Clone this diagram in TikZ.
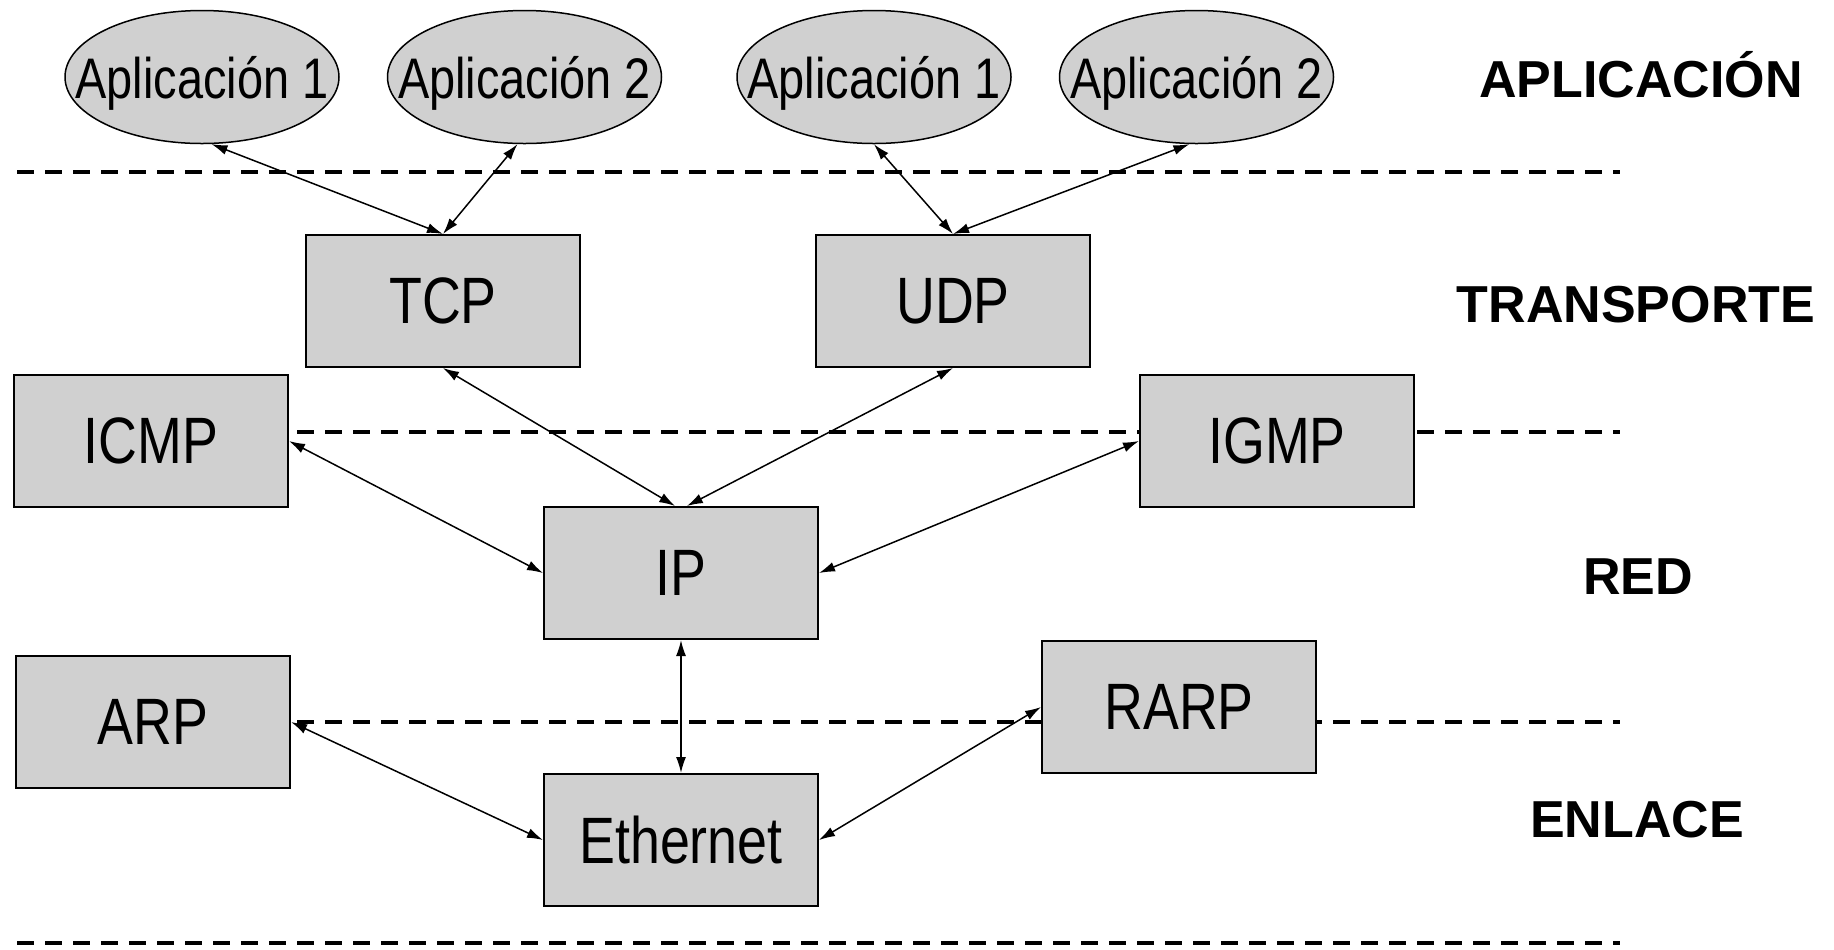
\documentclass[tikz,border=0pt]{standalone}
\usepackage{fontspec}
\setmainfont{Liberation Sans}
\newfontfamily\narrowfont[FakeStretch=0.82]{Liberation Sans}
\usetikzlibrary{positioning,shapes.geometric,arrows.meta}
\definecolor{gris}{RGB}{208,208,208}

\begin{document}
\begin{tikzpicture}[x=0.5pt, y=-0.5pt,
box/.style={rectangle, draw=black, fill=gris, line width=1pt, minimum width=137pt, minimum height=66pt, inner sep=0pt, font=\narrowfont\fontsize{32.8}{36}\selectfont},
app/.style={ellipse, draw=black, fill=gris, line width=0.75pt, minimum width=137pt, minimum height=66.5pt, inner xsep=-16pt, inner ysep=0pt, text depth=0pt, font=\narrowfont\fontsize{28.6}{32}\selectfont},
layer/.style={anchor=base, font=\bfseries\fontsize{26}{30}\selectfont},
divider/.style={line width=2pt, dash pattern=on 8.25pt off 5.75pt},
link/.style={{Latex[length=8pt,width=5pt]}-{Latex[length=8pt,width=5pt]}, line width=0.75pt},
]
\useasboundingbox (0,0) rectangle (1834,949);

% dashed lines between the layers (behind the boxes)
\foreach \y in {172,432,722,943}
  \draw[divider] (17,\y) -- (1620,\y);

% \node[type](name)[right/below=... of name]{text}
\node[app](app1) at (202,77) {Aplicación 1};
\node[app](app2)[right=23.5pt of app1] {Aplicación 2};
\node[app](app3) at (874,77) {Aplicación 1};
\node[app](app4)[right=23.5pt of app3] {Aplicación 2};

\node[box](tcp) at (443,301) {TCP};
\node[box](udp) at (953,301) {UDP};
\node[box](icmp) at (151,441) {ICMP};
\node[box](igmp) at (1277,441) {IGMP};
\node[box](ip) at (681,573) {IP};
\node[box](arp) at (153,722) {ARP};
\node[box](rarp) at (1179,707) {RARP};
\node[box](eth)[below=66.5pt of ip] {Ethernet};

% layer names
\node[layer](aplic) at (1641,97) {APLICACIÓN};
\node[layer](transp) at (1636,322) {TRANSPORTE};
\node[layer](red) at (1638,594) {RED};
\node[layer](enlace) at (1637,837) {ENLACE};

% \draw[link] (name.anchor) -- (name.anchor)
\draw[link] (app1.-82) -- (tcp.north);
\draw[link] (app2.-96) -- (tcp.north);
\draw[link] (app3.south) -- (udp.north);
\draw[link] (app4.-96) -- (udp.north);
\draw[link] (tcp.south) -- (ip.95);
\draw[link] (udp.south) -- (ip.85);
\draw[link] (icmp.east) -- (ip.west);
\draw[link] (igmp.west) -- (ip.east);
\draw[link] (ip.south) -- (eth.north);
\draw[link] (arp.east) -- (eth.west);
\draw[link] (rarp.west) -- (eth.east);

\end{tikzpicture}
\end{document}
